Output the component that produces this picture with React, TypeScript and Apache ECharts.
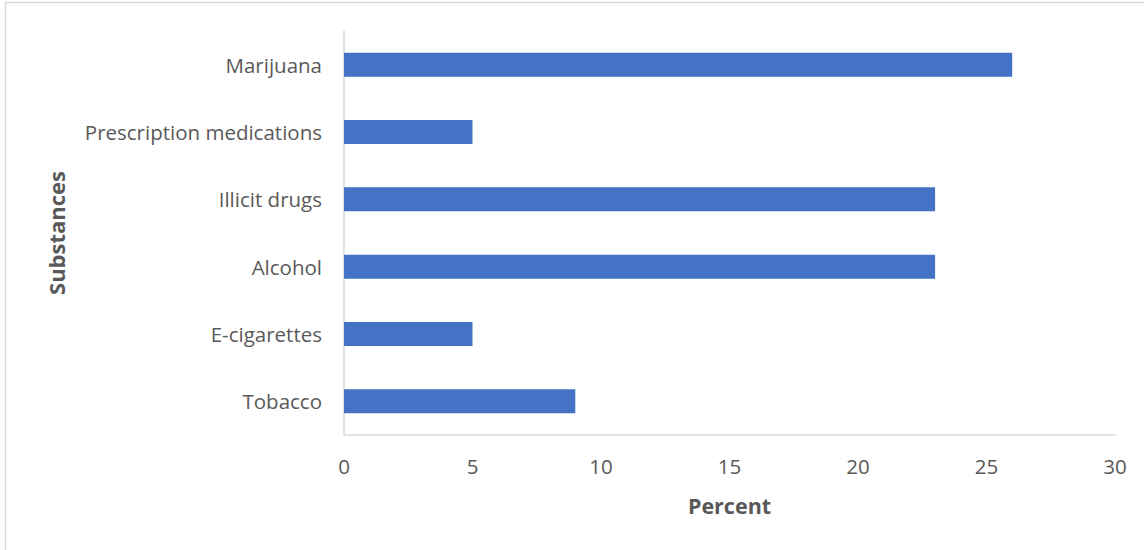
import React, { useEffect, useRef } from "react";
import * as echarts from "echarts";

const categories = ["Tobacco", "E-cigarettes", "Alcohol", "Illicit drugs", "Prescription medications", "Marijuana"];
const percentValues = [9, 5, 23, 23, 5, 26];
const xTicks = [0, 5, 10, 15, 20, 25, 30];

export default function App() {
  const ref = useRef<HTMLDivElement>(null);
  useEffect(() => {
    if (!ref.current) return;
    const chart = echarts.init(ref.current, null, { renderer: "svg" });
    const font = "'Open Sans', 'Noto Sans', sans-serif";
    chart.setOption({
      animation: false,
      backgroundColor: "#ffffff",
      textStyle: { fontFamily: font },
      graphic: [
        {
          type: "rect",
          shape: { x: 5.5, y: 2.5, width: 1300, height: 700 },
          style: { fill: "none", stroke: "#d9d9d9", lineWidth: 1.5 },
          silent: true,
        },
      ],
      grid: { left: 344, top: 31, right: 29, bottom: 115, containLabel: false },
      xAxis: {
        type: "value",
        min: xTicks[0],
        max: xTicks[xTicks.length - 1],
        interval: 5,
        name: "Percent",
        nameLocation: "middle",
        nameGap: 59,
        nameTextStyle: { fontSize: 21.5, fontWeight: "bold", color: "#595959", fontFamily: font },
        axisLine: { show: true, lineStyle: { color: "#d9d9d9", width: 1.5 } },
        axisTick: { show: false },
        splitLine: { show: false },
        axisLabel: { fontSize: 20.5, color: "#595959", margin: 20, fontFamily: font },
      },
      yAxis: {
        type: "category",
        data: categories,
        name: "Substances",
        nameLocation: "middle",
        nameGap: 277,
        nameRotate: 90,
        nameTextStyle: { fontSize: 22, fontWeight: "bold", color: "#595959", fontFamily: font },
        axisLine: { show: true, lineStyle: { color: "#d9d9d9", width: 1.5 } },
        axisTick: { show: false },
        axisLabel: { fontSize: 20.5, color: "#595959", margin: 22, fontFamily: font },
      },
      series: [
        {
          type: "bar",
          data: percentValues,
          barWidth: 24,
          itemStyle: { color: "#4472C4" },
        },
      ],
    });
    return () => chart.dispose();
  }, []);
  return (
    <div
      ref={ref}
      style={{ position: "fixed", left: 0, top: 0, width: 1144, height: 550 }}
    />
  );
}
